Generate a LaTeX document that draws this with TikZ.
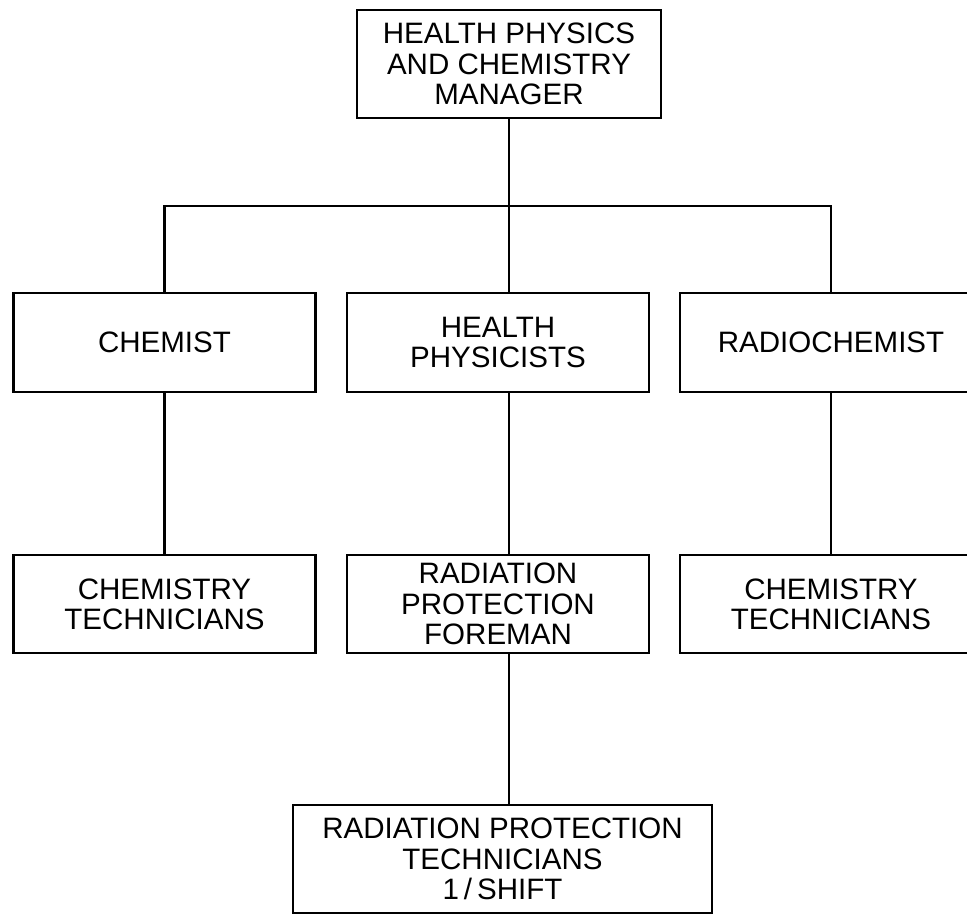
\documentclass[tikz,border=0pt]{standalone}
\usepackage{fontspec}
\setmainfont{Liberation Sans}
\begin{document}
\begin{tikzpicture}[x=0.025cm, y=-0.025cm, line width=2pt,
        post/.style={draw, rectangle, align=center, inner sep=0pt,
            minimum width=7.55cm, minimum height=2.475cm,
            font=\fontsize{21}{21.5}\selectfont}]
                \useasboundingbox(0,0)rectangle(967,915);
                \node[post, minimum width=7.6cm, minimum height=2.7cm] (mgr) at (509,64) {HEALTH PHYSICS\\AND CHEMISTRY\\MANAGER};
                \node[post] (chem) at (164.5,342.5) {CHEMIST};
                \node[post] (hp) at (498,342.5) {HEALTH\\PHYSICISTS};
                \node[post] (rchem) at (831,342.5) {RADIOCHEMIST};
                \node[post, minimum height=2.45cm] (techa) at (164.5,604) {CHEMISTRY\\TECHNICIANS};
                \node[post, minimum height=2.45cm] (foreman) at (498,604) {RADIATION\\PROTECTION\\FOREMAN};
                \node[post, minimum height=2.45cm] (techb) at (831,604) {CHEMISTRY\\TECHNICIANS};
                \node[post, minimum width=10.475cm, minimum height=2.7cm] (rpt) at (502.5,859) {RADIATION PROTECTION\\TECHNICIANS\\1\,/\,SHIFT};
                \coordinate (bus) at (509,206);
                \draw (mgr.south) -- (mgr.south |- hp.north);
                \draw (chem.north) |- (bus) -| (rchem.north);
                \draw (chem.south) -- (techa.north);
                \draw (mgr.south |- hp.south) -- (mgr.south |- foreman.north);
                \draw (rchem.south) -- (techb.north);
                \draw (mgr.south |- foreman.south) -- (mgr.south |- rpt.north);
            \end{tikzpicture}
\end{document}
